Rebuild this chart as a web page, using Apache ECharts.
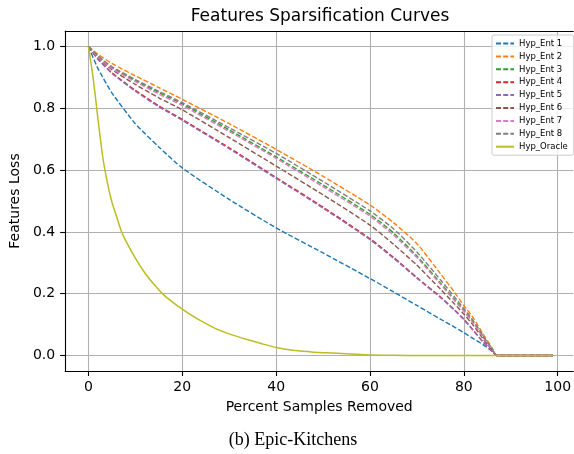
<!DOCTYPE html>
<html>
<head>
<meta charset="utf-8">
<script src="https://cdn.jsdelivr.net/npm/echarts@6/dist/echarts.min.js"></script>
<style>
  html, body { margin: 0; padding: 0; background: #fff; overflow: hidden; }
  #chart { width: 574px; height: 454px; }
</style>
</head>
<body>
<div id="chart"></div>
<script>
// x positions (percent samples removed)
var entX = [0, 2, 5, 10, 15, 20, 30, 40, 50, 60, 65, 70, 75, 78, 80, 82, 84, 86, 87, 90, 95, 99];
var oracleX = [0, 1, 2, 3, 4, 5, 6, 7, 8, 10, 12, 14, 16, 18, 20, 22, 24, 27, 30, 34, 37, 40, 44, 48, 52, 56, 60, 65, 70, 80, 90, 99];

// features loss per curve
var hypEnt1 = [1, 0.93, 0.85, 0.75, 0.675, 0.607, 0.505, 0.413, 0.332, 0.249, 0.206, 0.162, 0.118, 0.092, 0.074, 0.055, 0.036, 0.014, 0, 0, 0, 0];
var hypEnt2 = [1, 0.975, 0.945, 0.905, 0.867, 0.829, 0.75, 0.667, 0.58, 0.487, 0.43, 0.362, 0.265, 0.205, 0.162, 0.122, 0.072, 0.025, 0, 0, 0, 0];
var hypEnt3 = [1, 0.968, 0.932, 0.89, 0.851, 0.814, 0.73, 0.643, 0.552, 0.457, 0.397, 0.322, 0.235, 0.182, 0.146, 0.108, 0.063, 0.021, 0, 0, 0, 0];
var hypEnt4 = [1, 0.96, 0.915, 0.858, 0.808, 0.764, 0.672, 0.576, 0.48, 0.378, 0.318, 0.252, 0.19, 0.148, 0.118, 0.082, 0.046, 0.015, 0, 0, 0, 0];
var hypEnt5 = [1, 0.959, 0.913, 0.855, 0.805, 0.761, 0.669, 0.573, 0.477, 0.375, 0.315, 0.25, 0.188, 0.146, 0.116, 0.081, 0.045, 0.015, 0, 0, 0, 0];
var hypEnt6 = [1, 0.964, 0.925, 0.877, 0.834, 0.795, 0.705, 0.613, 0.52, 0.422, 0.36, 0.292, 0.215, 0.167, 0.134, 0.098, 0.056, 0.018, 0, 0, 0, 0];
var hypEnt7 = [1, 0.966, 0.929, 0.886, 0.846, 0.809, 0.725, 0.638, 0.546, 0.451, 0.39, 0.317, 0.231, 0.178, 0.143, 0.105, 0.061, 0.02, 0, 0, 0, 0];
var hypEnt8 = [1, 0.97, 0.935, 0.893, 0.855, 0.818, 0.737, 0.654, 0.563, 0.468, 0.41, 0.335, 0.245, 0.19, 0.152, 0.113, 0.066, 0.022, 0, 0, 0, 0];
var hypOracle = [1, 0.9, 0.77, 0.648, 0.563, 0.497, 0.45, 0.403, 0.37, 0.315, 0.268, 0.23, 0.197, 0.172, 0.15, 0.13, 0.112, 0.088, 0.07, 0.051, 0.038, 0.026, 0.016, 0.011, 0.008, 0.005, 0.002, 0.001, 0, 0, 0, 0];

var seriesNames = ['Hyp_Ent 1', 'Hyp_Ent 2', 'Hyp_Ent 3', 'Hyp_Ent 4', 'Hyp_Ent 5', 'Hyp_Ent 6', 'Hyp_Ent 7', 'Hyp_Ent 8', 'Hyp_Oracle'];
var xTicks = [0, 20, 40, 60, 80, 100];
var yTicks = [0, 0.2, 0.4, 0.6, 0.8, 1.0];

var colors = ['#1f77b4', '#ff7f0e', '#2ca02c', '#d62728', '#9467bd', '#8c564b', '#e377c2', '#7f7f7f', '#bcbd22'];
var font = 'DejaVu Sans';
// the original figure is cut off on the right, so the x range ends before its right spine
var xMin = -4.95, xMax = 103.3;

function pairs(xs, ys) {
    return xs.map(function(x, i) { return [x, ys[i]]; });
}

var entData = [hypEnt1, hypEnt2, hypEnt3, hypEnt4, hypEnt5, hypEnt6, hypEnt7, hypEnt8];
var series = entData.map(function(ys, i) {
    return {
        name: seriesNames[i],
        type: 'line',
        data: pairs(entX, ys),
        symbol: 'none',
        smooth: 0.2,
        animation: false,
        lineStyle: { color: colors[i], width: 1.4, type: [5, 2.2] },
        itemStyle: { color: colors[i] }
    };
});
series.push({
    name: seriesNames[8],
    type: 'line',
    data: pairs(oracleX, hypOracle),
    symbol: 'none',
    smooth: 0.2,
    animation: false,
    lineStyle: { color: colors[8], width: 1.5, type: 'solid' },
    itemStyle: { color: colors[8] }
});

var chart = echarts.init(document.getElementById('chart'));
chart.setOption({
    animation: false,
    backgroundColor: '#fff',
    grid: { left: 62, top: 31, right: 0, height: 340 },
    xAxis: [{
        type: 'value', min: xMin, max: xMax,
        name: 'Percent Samples Removed', nameLocation: 'middle', nameGap: 29,
        nameTextStyle: { fontFamily: font, fontSize: 14, color: '#000' },
        axisLine: { show: true, onZero: false, lineStyle: { color: '#000', width: 1.1 } },
        axisTick: { show: true, length: 5, customValues: xTicks, lineStyle: { color: '#000', width: 1.1 } },
        axisLabel: { customValues: xTicks, margin: 9, fontFamily: font, fontSize: 14, color: '#000' },
        splitLine: { show: true, lineStyle: { color: '#b0b0b0', width: 1.1 } }
    }, {
        // top spine only
        type: 'value', position: 'top', min: xMin, max: xMax,
        axisLine: { show: true, onZero: false, lineStyle: { color: '#000', width: 1.1 } },
        axisTick: { show: false },
        axisLabel: { show: false },
        splitLine: { show: false }
    }],
    yAxis: {
        type: 'value', min: -0.05, max: 1.05,
        name: 'Features Loss', nameLocation: 'middle', nameGap: 38,
        nameTextStyle: { fontFamily: font, fontSize: 14, color: '#000' },
        axisLine: { show: true, onZero: false, lineStyle: { color: '#000', width: 1.1 } },
        axisTick: { show: true, length: 5, customValues: yTicks, lineStyle: { color: '#000', width: 1.1 } },
        axisLabel: {
            customValues: yTicks, margin: 10, fontFamily: font, fontSize: 14, color: '#000',
            formatter: function(v) { return v.toFixed(1); }
        },
        splitLine: { show: true, lineStyle: { color: '#b0b0b0', width: 1.1 } }
    },
    legend: {
        orient: 'vertical', left: 492, top: 35,
        data: seriesNames,
        itemWidth: 18, itemHeight: 9, itemGap: 3.9,
        padding: [4, 6, 4, 3],
        backgroundColor: 'rgba(255,255,255,0.8)',
        borderColor: '#cccccc', borderWidth: 1, borderRadius: 2,
        itemStyle: { color: 'rgba(0,0,0,0)', borderColor: 'rgba(0,0,0,0)', borderWidth: 0 },
        textStyle: { fontFamily: font, fontSize: 8.5, color: '#000' }
    },
    graphic: [
        {
            type: 'text', x: 320, y: 17,
            style: { text: 'Features Sparsification Curves', fontFamily: font, fontSize: 17, fill: '#000', align: 'center', verticalAlign: 'middle' }
        },
        {
            type: 'text', x: 293, y: 440,
            style: { text: '(b) Epic-Kitchens', fontFamily: 'Liberation Serif', fontSize: 18, fill: '#000', align: 'center', verticalAlign: 'middle' }
        }
    ],
    series: series
});
</script>
</body>
</html>
